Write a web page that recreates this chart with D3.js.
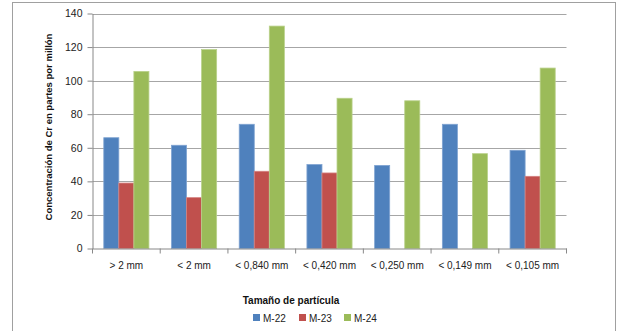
<!DOCTYPE html>
<html>
<head>
<meta charset="utf-8">
<script src="https://cdn.jsdelivr.net/npm/d3@7"></script>
<style>
  html, body { margin: 0; padding: 0; background: #fff; }
  svg { display: block; font-family: "Liberation Sans", Arial, sans-serif; }
</style>
</head>
<body>
<svg id="chart" width="618" height="331"></svg>
<script>
// Particle size classes (x axis)
const categories = ["> 2 mm", "< 2 mm", "< 0,840 mm", "< 0,420 mm", "< 0,250 mm", "< 0,149 mm", "< 0,105 mm"];
// Series names
const seriesNames = ["M-22", "M-23", "M-24"];
// Cr concentration (ppm) per sample; null = no value
const m22 = [66, 61.5, 74, 50, 49.5, 74, 58.5];
const m23 = [39, 30.3, 46, 45, null, null, 43];
const m24 = [105.5, 118.5, 132.5, 89.5, 88, 56.5, 107.5];
const yTicks = [0, 20, 40, 60, 80, 100, 120, 140];
const seriesColors = ["#4F81BD", "#C0504D", "#9BBB59"];
const edgeColors = ["#7FA3D1", "#D48280", "#B9D18A"];

const seriesValues = [m22, m23, m24];

const svg = d3.select("#chart");
const margin = { left: 92.5, right: 566.5, top: 13.5, bottom: 248.5 };

// Outer chart frame
svg.append("rect")
  .attr("x", 12.5).attr("y", 2.5)
  .attr("width", 603).attr("height", 340)
  .attr("fill", "none").attr("stroke", "#A0A0A0").attr("stroke-width", 1);

const x = d3.scaleBand().domain(categories).range([margin.left, margin.right]).paddingInner(0).paddingOuter(0);
// 150% gap between clusters
const xs = d3.scaleBand().domain(seriesNames).range([0, x.bandwidth()]).paddingInner(0).paddingOuter(0.75);
const y = d3.scaleLinear().domain([0, 140]).range([margin.bottom, margin.top]);

// Horizontal gridlines
svg.append("g").selectAll("line").data(yTicks.filter(d => d > 0)).join("line")
  .attr("x1", margin.left).attr("x2", margin.right)
  .attr("y1", d => Math.round(y(d)) + 0.5).attr("y2", d => Math.round(y(d)) + 0.5)
  .attr("stroke", "#A6A6A6").attr("stroke-width", 1);

// Bars
const groups = svg.append("g").selectAll("g").data(categories).join("g")
  .attr("transform", d => `translate(${x(d)},0)`);
groups.selectAll("rect")
  .data((c, i) => seriesNames.map((s, k) => ({ s, k, v: seriesValues[k][i] })).filter(d => d.v != null))
  .join("rect")
  .attr("x", d => xs(d.s))
  .attr("width", xs.bandwidth())
  .attr("y", d => y(d.v))
  .attr("height", d => y(0) - y(d.v))
  .attr("fill", d => seriesColors[d.k])
  .attr("stroke", d => edgeColors[d.k])
  .attr("stroke-width", 0.8);

// Y axis
const yAxis = d3.axisLeft(y).tickValues(yTicks).tickSize(5).tickPadding(5).tickSizeOuter(0);
const gy = svg.append("g").attr("transform", `translate(${margin.left},0)`).call(yAxis);
gy.select(".domain").attr("stroke", "#888");
gy.selectAll(".tick line").attr("stroke", "#888");
gy.selectAll(".tick text").attr("font-size", 10.5).attr("fill", "#222").attr("font-family", "Liberation Sans, Arial, sans-serif");

// X axis
const xAxis = d3.axisBottom(x).tickSize(0).tickPadding(13);
const gx = svg.append("g").attr("transform", `translate(0,${margin.bottom})`).call(xAxis);
gx.select(".domain").attr("stroke", "#888");
gx.selectAll(".tick text").attr("font-size", 10).attr("fill", "#222").attr("font-family", "Liberation Sans, Arial, sans-serif");
// category separator ticks
svg.append("g").selectAll("line").data(d3.range(categories.length + 1)).join("line")
  .attr("x1", i => margin.left + i * x.bandwidth()).attr("x2", i => margin.left + i * x.bandwidth())
  .attr("y1", margin.bottom).attr("y2", margin.bottom + 5)
  .attr("stroke", "#888");

// Axis titles
svg.append("text")
  .attr("transform", "translate(52,127) rotate(-90)")
  .attr("text-anchor", "middle")
  .attr("font-size", 9.5).attr("font-weight", "bold").attr("fill", "#111")
  .text("Concentración de Cr en partes por millón");

svg.append("text")
  .attr("x", 291).attr("y", 303.5)
  .attr("text-anchor", "middle")
  .attr("font-size", 10).attr("font-weight", "bold").attr("fill", "#111")
  .text("Tamaño de partícula");

// Legend
const legendX = [253, 299, 344];
const legend = svg.append("g").selectAll("g").data(seriesNames).join("g")
  .attr("transform", (d, i) => `translate(${legendX[i]},314)`);
legend.append("rect").attr("width", 7).attr("height", 7).attr("fill", (d, i) => seriesColors[i]);
legend.append("text").attr("x", 10).attr("y", 7.5)
  .attr("font-size", 10).attr("fill", "#222").text(d => d);
</script>
</body>
</html>
